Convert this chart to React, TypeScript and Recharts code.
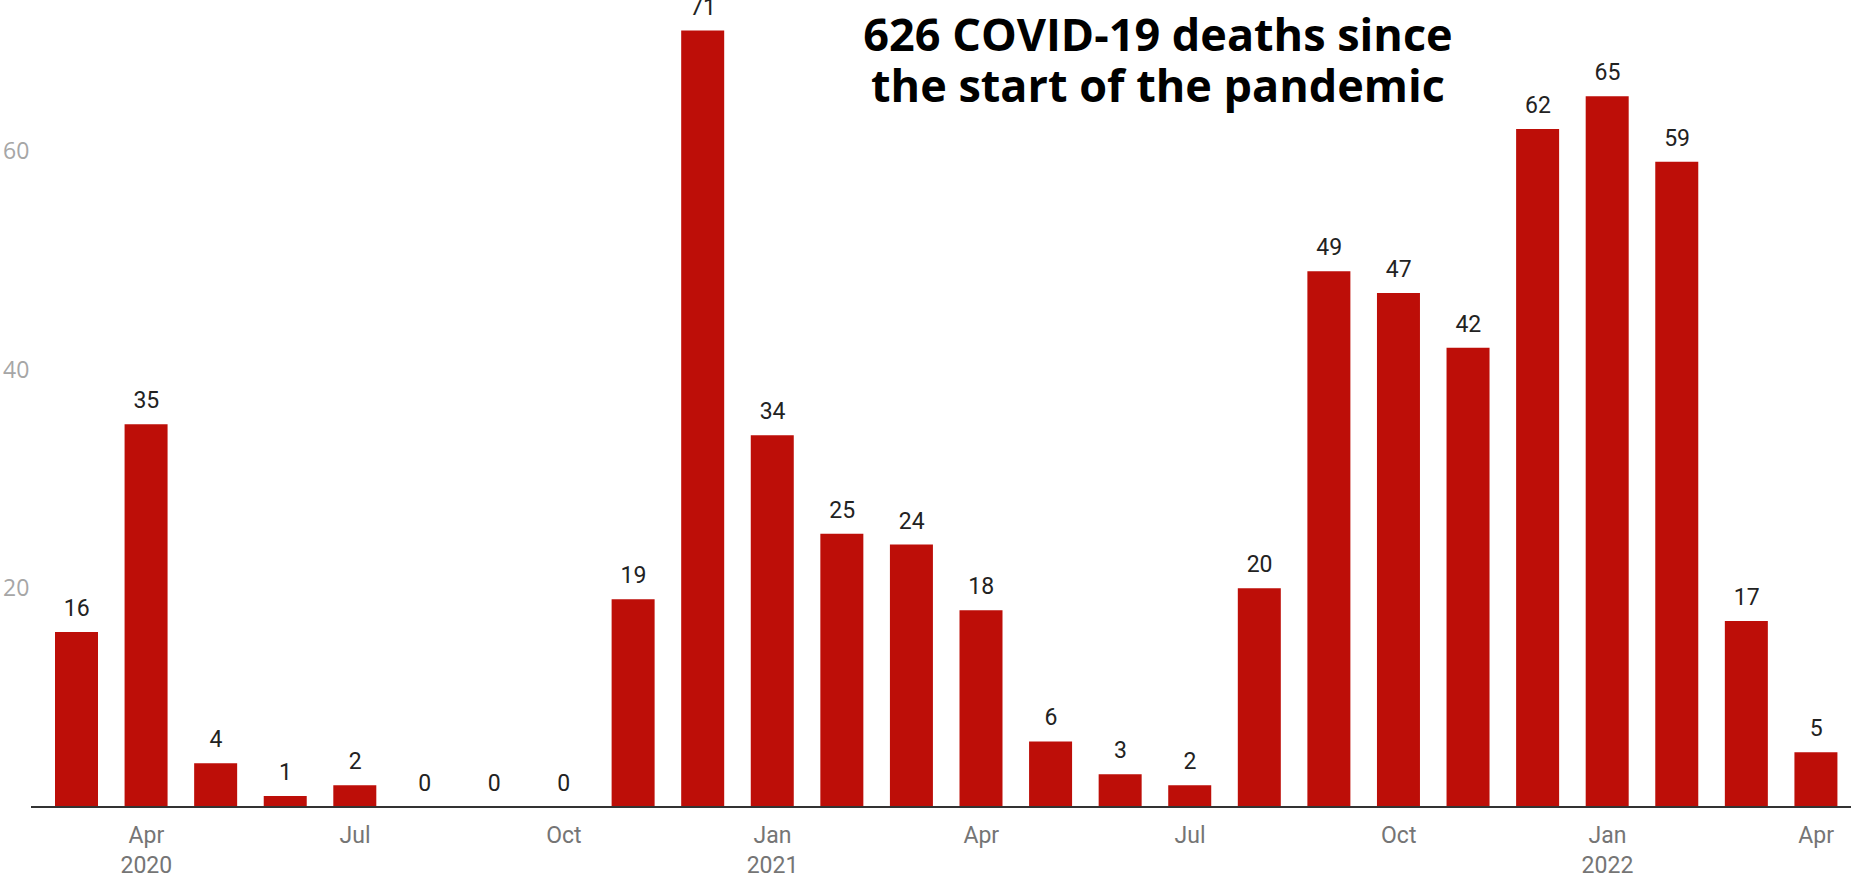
import React from "react";
import { ComposedChart, Bar, Line, XAxis, YAxis, LabelList } from "recharts";

// monthly COVID-19 deaths, Mar 2020 - Apr 2022
const months = [
  "2020-03", "2020-04", "2020-05", "2020-06", "2020-07", "2020-08", "2020-09",
  "2020-10", "2020-11", "2020-12", "2021-01", "2021-02", "2021-03", "2021-04",
  "2021-05", "2021-06", "2021-07", "2021-08", "2021-09", "2021-10", "2021-11",
  "2021-12", "2022-01", "2022-02", "2022-03", "2022-04",
];

const deaths = [
  16, 35, 4, 1, 2, 0, 0, 0, 19, 71, 34, 25, 24, 18, 6, 3, 2, 20, 49, 47, 42, 62,
  65, 59, 17, 5,
];

const tickLabels: Record<string, string[]> = {
  "2020-04": ["Apr", "2020"],
  "2020-07": ["Jul"],
  "2020-10": ["Oct"],
  "2021-01": ["Jan", "2021"],
  "2021-04": ["Apr"],
  "2021-07": ["Jul"],
  "2021-10": ["Oct"],
  "2022-01": ["Jan", "2022"],
  "2022-04": ["Apr"],
};

const yTicks = [20, 40, 60];

const titleLines = ["626 COVID-19 deaths since", "the start of the pandemic"];

const data = months.map((m, i) => ({ month: m, deaths: deaths[i] }));

const BAR_RED = "#bd0e08";

const MonthTick = (props: any) => {
  const { x, y, payload } = props;
  const lines = tickLabels[payload.value];
  if (!lines) return null;
  return (
    <text
      x={x}
      y={y}
      textAnchor="middle"
      fill="#757575"
      fontSize={23}
      fontFamily="Roboto, sans-serif"
    >
      {lines.map((l, i) => (
        <tspan key={i} x={x} y={y + 36 + i * 30}>
          {l}
        </tspan>
      ))}
    </text>
  );
};

const ValueTick = (props: any) => {
  const { y, payload } = props;
  return (
    <text
      x={3}
      y={y + 8}
      textAnchor="start"
      fill="#a6a6a6"
      fontSize={23}
      fontFamily="'Open Sans', sans-serif"
    >
      {payload.value}
    </text>
  );
};

export default function App() {
  return (
    <div
      style={{
        position: "absolute",
        left: 0,
        top: 0,
        width: 1851,
        height: 878,
        overflow: "hidden",
        background: "#fff",
      }}
    >
      <ComposedChart
        width={1851}
        height={878}
        data={data}
        margin={{ top: 0, right: 0, bottom: 0, left: 0 }}
        barSize={43}
      >
        <XAxis
          dataKey="month"
          height={71}
          interval={0}
          padding={{ left: 11, right: 0 }}
          tickLine={false}
          tickSize={0}
          tickMargin={0}
          axisLine={{ stroke: "#333", strokeWidth: 2 }}
          tick={<MonthTick />}
        />
        <YAxis
          width={31}
          domain={[0, 73.8]}
          allowDataOverflow
          ticks={yTicks}
          axisLine={false}
          tickLine={false}
          tick={<ValueTick />}
        />
        <Bar dataKey="deaths" fill={BAR_RED} isAnimationActive={false} />
        {/* invisible line only carries the value labels, so zeros get one too */}
        <Line
          dataKey="deaths"
          stroke="none"
          dot={false}
          activeDot={false}
          isAnimationActive={false}
        >
          <LabelList
            dataKey="deaths"
            position="top"
            offset={16}
            fill="#222"
            fontSize={23}
            fontFamily="Roboto, sans-serif"
          />
        </Line>
      </ComposedChart>
      <div
        style={{
          position: "absolute",
          left: 1158 - 400,
          top: 8,
          width: 800,
          textAlign: "center",
          fontFamily: "'Open Sans', sans-serif",
          fontWeight: 700,
          fontSize: 45,
          lineHeight: "51px",
          color: "#000",
        }}
      >
        {titleLines.map((t) => (
          <div key={t}>{t}</div>
        ))}
      </div>
    </div>
  );
}
